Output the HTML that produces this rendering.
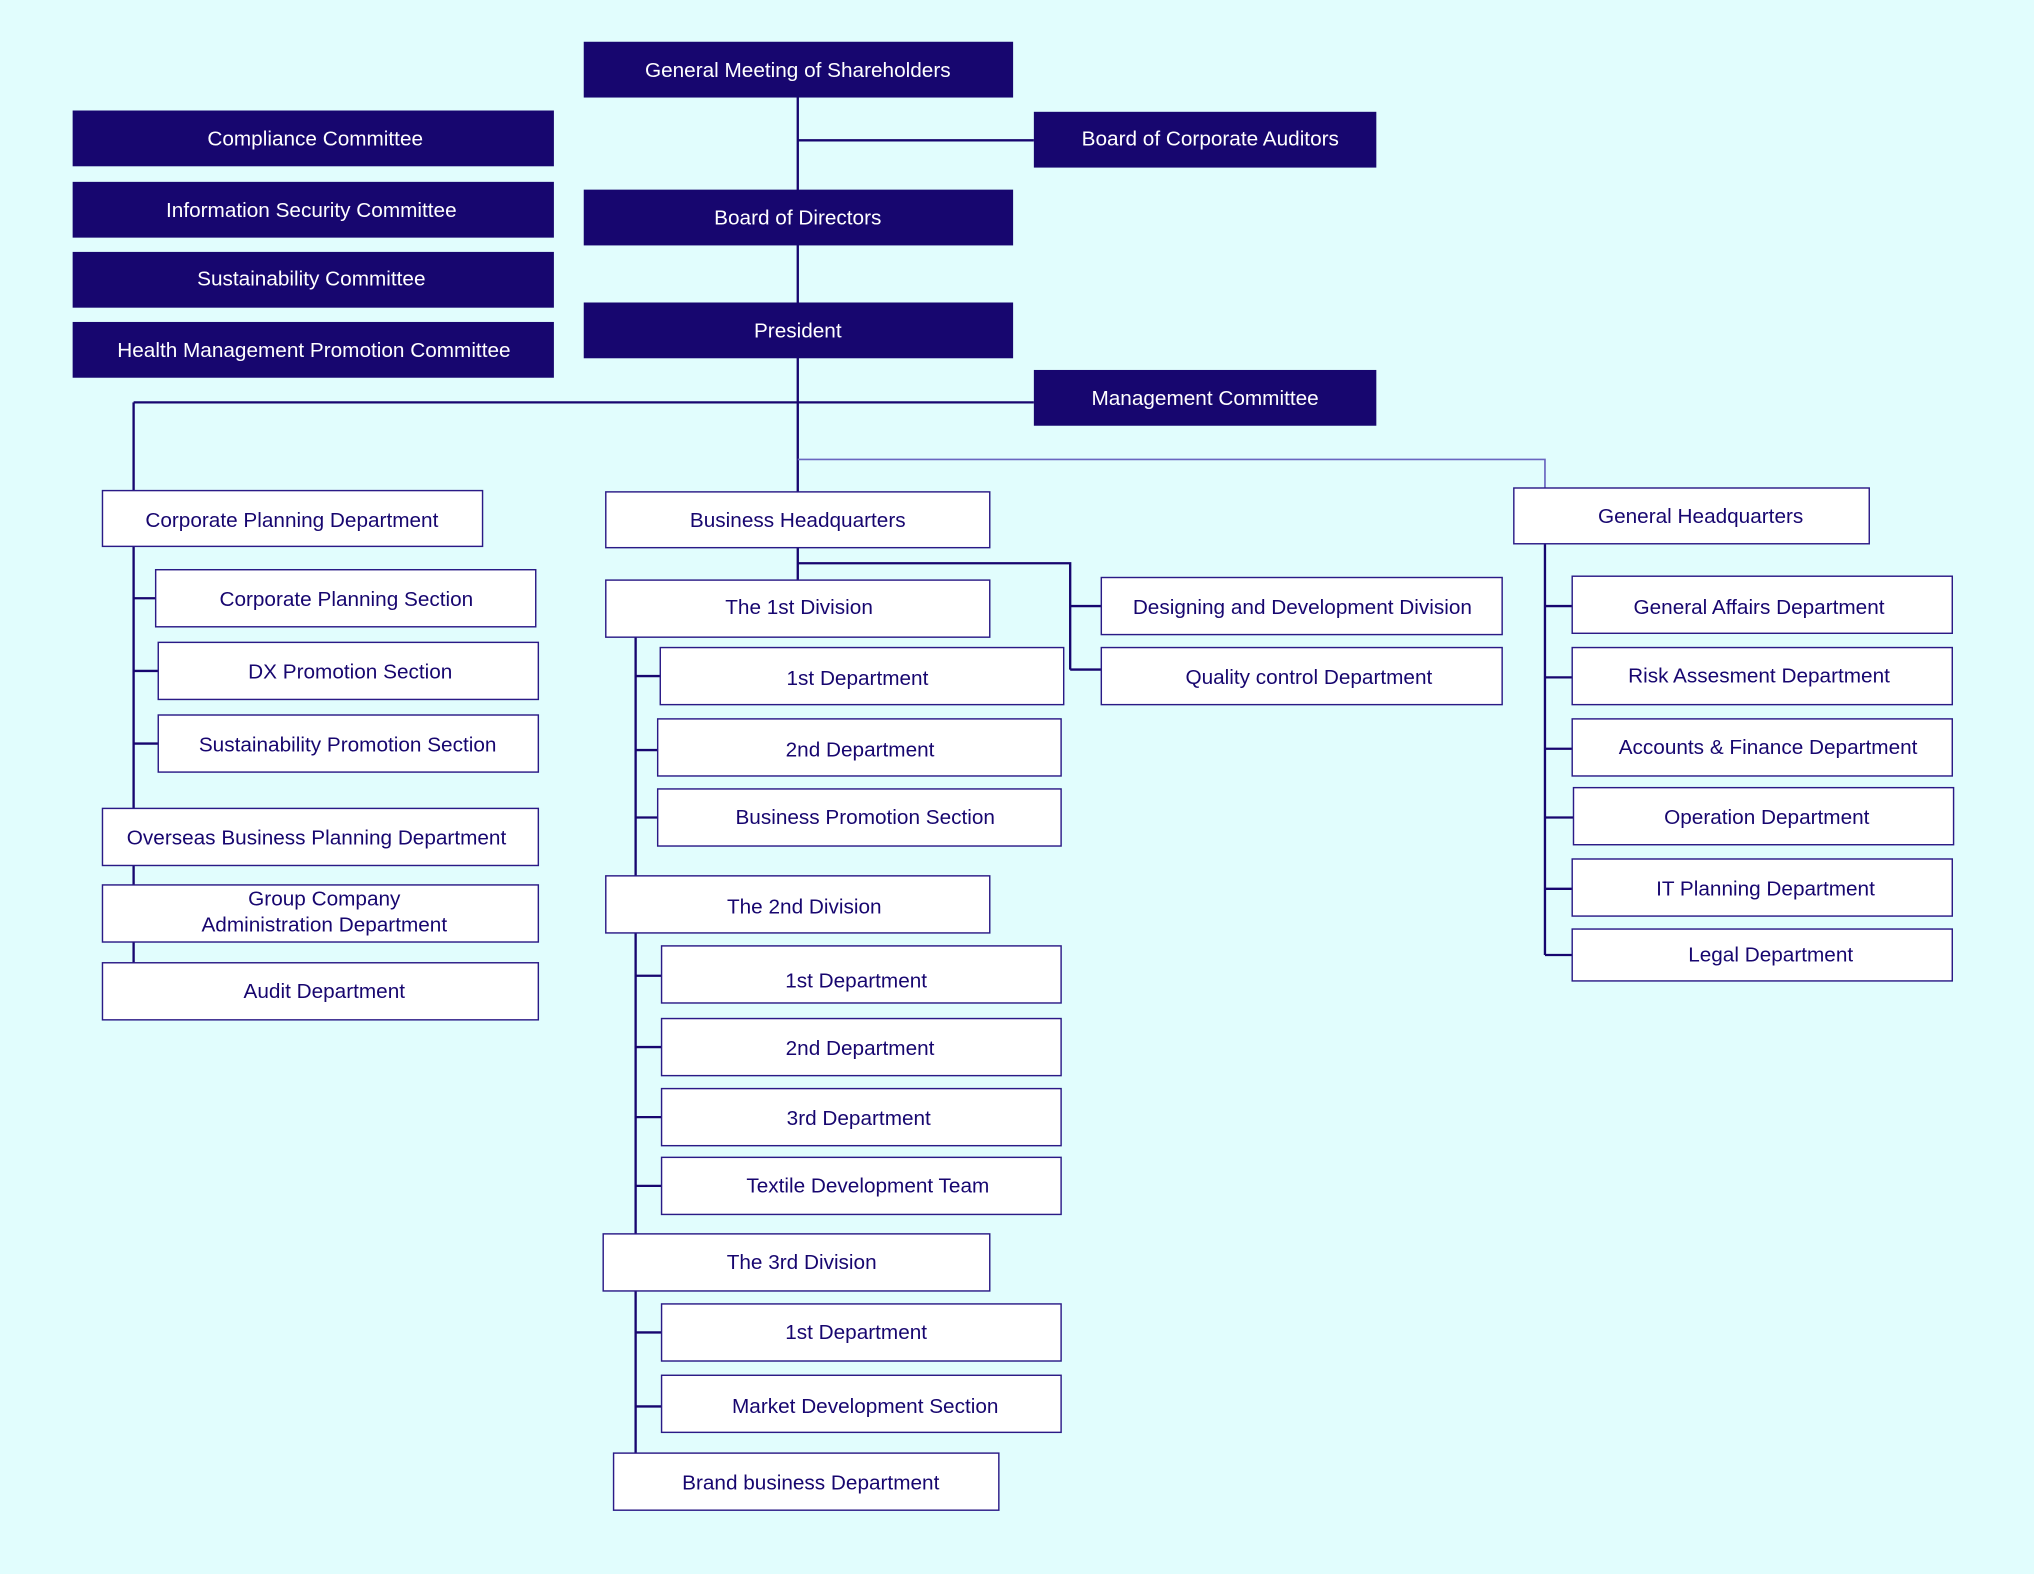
<!DOCTYPE html>
<html><head><meta charset="utf-8"><style>
html,body{margin:0;padding:0;background:#e1fdfd;}
svg{display:block}
text{font-family:"Liberation Sans",sans-serif;font-size:16px;text-anchor:middle;dominant-baseline:central}
.d{fill:#17066f}
.dt{fill:#fff}
.w{fill:#fff;stroke:#2a1a86;stroke-width:1.1}
.wt{fill:#17066f}
.l{stroke:#17066f;stroke-width:1.8;fill:none}
</style></head><body>
<svg width="2034" height="1574" viewBox="0 0 1568 1213" xmlns="http://www.w3.org/2000/svg">
<rect width="1568" height="1213" fill="#e1fdfd"/>
<!-- lines -->
<path class="l" d="M615 75V380M615 108H797M103 310H797M103 310V378"/>
<path d="M615 354H1191V376" stroke="#6a66c0" stroke-width="1.3" fill="none"/>
<path class="l" d="M103 421V742M103 461H120M103 517H122M103 573H122"/>
<path class="l" d="M615 422V447M615 434H825V516M825 467H849M825 516H849"/>
<path class="l" d="M490 491V1120M490 521H509M490 578H507M490 630H507M490 752H510M490 807H510M490 861H510M490 914H510M490 1027H510M490 1084H510"/>
<path class="l" d="M1191 419V736M1191 467H1212M1191 522H1212M1191 577H1212M1191 630H1213M1191 685H1212M1191 736H1212"/>
<!-- dark boxes -->
<g>
<rect class="d" x="450" y="32" width="331" height="43"/><text class="dt" x="615" y="54">General Meeting of Shareholders</text>
<rect class="d" x="797" y="86" width="264" height="43"/><text class="dt" x="933" y="107">Board of Corporate Auditors</text>
<rect class="d" x="450" y="146" width="331" height="43"/><text class="dt" x="615" y="168">Board of Directors</text>
<rect class="d" x="450" y="233" width="331" height="43"/><text class="dt" x="615" y="255">President</text>
<rect class="d" x="797" y="285" width="264" height="43"/><text class="dt" x="929" y="307">Management Committee</text>
<rect class="d" x="56" y="85" width="371" height="43"/><text class="dt" x="243" y="107">Compliance Committee</text>
<rect class="d" x="56" y="140" width="371" height="43"/><text class="dt" x="240" y="162">Information Security Committee</text>
<rect class="d" x="56" y="194" width="371" height="43"/><text class="dt" x="240" y="215">Sustainability Committee</text>
<rect class="d" x="56" y="248" width="371" height="43"/><text class="dt" x="242" y="270">Health Management Promotion Committee</text>
</g>
<!-- white boxes -->
<g>
<rect class="w" x="79" y="378" width="293" height="43"/><text class="wt" x="225" y="401">Corporate Planning Department</text>
<rect class="w" x="120" y="439" width="293" height="44"/><text class="wt" x="267" y="462">Corporate Planning Section</text>
<rect class="w" x="122" y="495" width="293" height="44"/><text class="wt" x="270" y="518">DX Promotion Section</text>
<rect class="w" x="122" y="551" width="293" height="44"/><text class="wt" x="268" y="574">Sustainability Promotion Section</text>
<rect class="w" x="79" y="623" width="336" height="44"/><text class="wt" x="244" y="646">Overseas Business Planning Department</text>
<rect class="w" x="79" y="682" width="336" height="44"/><text class="wt" x="250" y="693">Group Company</text><text class="wt" x="250" y="713">Administration Department</text>
<rect class="w" x="79" y="742" width="336" height="44"/><text class="wt" x="250" y="764">Audit Department</text>

<rect class="w" x="467" y="379" width="296" height="43"/><text class="wt" x="615" y="401">Business Headquarters</text>
<rect class="w" x="849" y="445" width="309" height="44"/><text class="wt" x="1004" y="468">Designing and Development Division</text>
<rect class="w" x="849" y="499" width="309" height="44"/><text class="wt" x="1009" y="522">Quality control Department</text>
<rect class="w" x="467" y="447" width="296" height="44"/><text class="wt" x="616" y="468">The 1st Division</text>
<rect class="w" x="509" y="499" width="311" height="44"/><text class="wt" x="661" y="523">1st Department</text>
<rect class="w" x="507" y="554" width="311" height="44"/><text class="wt" x="663" y="578">2nd Department</text>
<rect class="w" x="507" y="608" width="311" height="44"/><text class="wt" x="667" y="630">Business Promotion Section</text>
<rect class="w" x="467" y="675" width="296" height="44"/><text class="wt" x="620" y="699">The 2nd Division</text>
<rect class="w" x="510" y="729" width="308" height="44"/><text class="wt" x="660" y="756">1st Department</text>
<rect class="w" x="510" y="785" width="308" height="44"/><text class="wt" x="663" y="808">2nd Department</text>
<rect class="w" x="510" y="839" width="308" height="44"/><text class="wt" x="662" y="862">3rd Department</text>
<rect class="w" x="510" y="892" width="308" height="44"/><text class="wt" x="669" y="914">Textile Development Team</text>
<rect class="w" x="465" y="951" width="298" height="44"/><text class="wt" x="618" y="973">The 3rd Division</text>
<rect class="w" x="510" y="1005" width="308" height="44"/><text class="wt" x="660" y="1027">1st Department</text>
<rect class="w" x="510" y="1060" width="308" height="44"/><text class="wt" x="667" y="1084">Market Development Section</text>
<rect class="w" x="473" y="1120" width="297" height="44"/><text class="wt" x="625" y="1143">Brand business Department</text>

<rect class="w" x="1167" y="376" width="274" height="43"/><text class="wt" x="1311" y="398">General Headquarters</text>
<rect class="w" x="1212" y="444" width="293" height="44"/><text class="wt" x="1356" y="468">General Affairs Department</text>
<rect class="w" x="1212" y="499" width="293" height="44"/><text class="wt" x="1356" y="521">Risk Assesment Department</text>
<rect class="w" x="1212" y="554" width="293" height="44"/><text class="wt" x="1363" y="576">Accounts &amp; Finance Department</text>
<rect class="w" x="1213" y="607" width="293" height="44"/><text class="wt" x="1362" y="630">Operation Department</text>
<rect class="w" x="1212" y="662" width="293" height="44"/><text class="wt" x="1361" y="685">IT Planning Department</text>
<rect class="w" x="1212" y="716" width="293" height="40"/><text class="wt" x="1365" y="736">Legal Department</text>
</g>
</svg>
</body></html>
